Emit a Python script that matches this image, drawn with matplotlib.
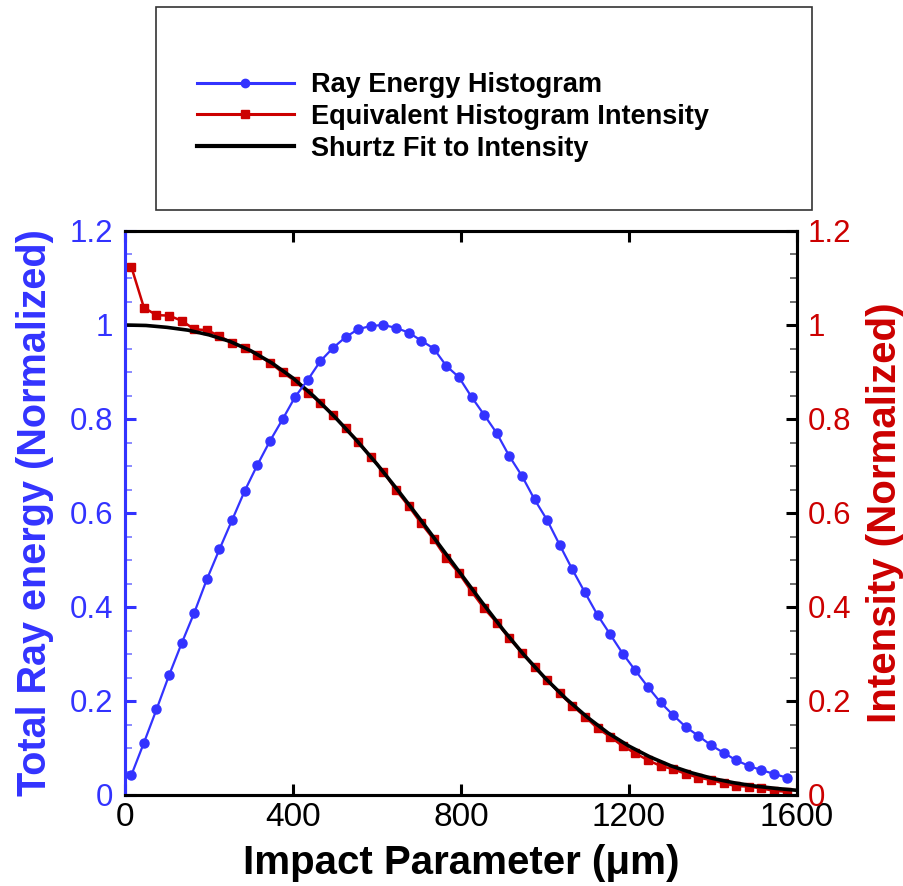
import matplotlib
matplotlib.use("Agg")
import matplotlib.pyplot as plt
from matplotlib.patches import Rectangle
from matplotlib.lines import Line2D
from matplotlib.ticker import MultipleLocator, FuncFormatter

plt.rcParams['font.family'] = ['Liberation Sans', 'DejaVu Sans']

# ---- data ----
x_hist = [15 + 30 * i for i in range(53)]
ray_energy = [0.042, 0.111, 0.182, 0.255, 0.323, 0.388, 0.459, 0.523, 0.585, 0.647,
              0.702, 0.753, 0.799, 0.847, 0.883, 0.923, 0.951, 0.974, 0.991, 0.998,
              1.000, 0.994, 0.984, 0.967, 0.950, 0.913, 0.889, 0.847, 0.809, 0.770,
              0.721, 0.679, 0.629, 0.585, 0.532, 0.480, 0.431, 0.383, 0.342, 0.301,
              0.265, 0.230, 0.197, 0.170, 0.145, 0.126, 0.106, 0.090, 0.074, 0.062,
              0.053, 0.045, 0.037]
hist_intensity = [1.124, 1.037, 1.021, 1.020, 1.009, 0.991, 0.989, 0.977, 0.961, 0.952,
                  0.936, 0.920, 0.899, 0.881, 0.856, 0.835, 0.809, 0.780, 0.752, 0.720,
                  0.688, 0.649, 0.615, 0.578, 0.544, 0.504, 0.472, 0.433, 0.397, 0.367,
                  0.333, 0.303, 0.272, 0.245, 0.216, 0.190, 0.167, 0.142, 0.124, 0.104,
                  0.089, 0.074, 0.062, 0.055, 0.045, 0.037, 0.032, 0.025, 0.019, 0.018,
                  0.014, 0.009, 0.007]
x_fit = [50 * i for i in range(33)]
fit_intensity = [1.000, 0.999, 0.995, 0.989, 0.979, 0.965, 0.945, 0.919, 0.887, 0.848,
                 0.804, 0.756, 0.704, 0.648, 0.590, 0.530, 0.470, 0.410, 0.352, 0.298,
                 0.249, 0.205, 0.166, 0.132, 0.104, 0.081, 0.062, 0.047, 0.035, 0.026,
                 0.019, 0.014, 0.010]
labels = ["Ray Energy Histogram", "Equivalent Histogram Intensity", "Shurtz Fit to Intensity"]
x_ticks = [0, 400, 800, 1200, 1600]

BLUE = '#3333ff'
RED = '#cc0000'

fig = plt.figure(figsize=(9.04, 8.86), dpi=100)
ax = fig.add_axes([125 / 904, 1 - 795 / 886, 672 / 904, 564 / 886])
ax2 = ax.twinx()

l2, = ax.plot(x_hist, hist_intensity, color=RED, lw=1.8, marker='s', ms=5.5, zorder=2)
l3, = ax.plot(x_fit, fit_intensity, color='black', lw=2.6, zorder=3)
l1, = ax.plot(x_hist, ray_energy, color=BLUE, lw=1.6, marker='o', ms=6.5, zorder=4)

for a in (ax, ax2):
    a.set_xlim(0, 1600)
    a.set_ylim(0, 1.2)
    a.yaxis.set_major_locator(MultipleLocator(0.2))
    a.yaxis.set_minor_locator(MultipleLocator(0.05))
    a.yaxis.set_major_formatter(FuncFormatter(lambda v, p: '%g' % round(v, 2)))
ax.set_xticks(x_ticks)
ax.tick_params(axis='x', which='major', direction='in', length=8, width=2.2,
               top=True, labelsize=24, pad=5, color='black')
ax.tick_params(axis='y', which='major', direction='in', length=8, width=2.2,
               labelsize=22.5, colors=BLUE, pad=8.5)
ax.tick_params(axis='y', which='minor', direction='in', length=5, width=1.2, color='#7777ff')
ax2.tick_params(axis='y', which='major', direction='in', length=8, width=2.2,
                labelsize=22.5, color='black', labelcolor=RED, pad=8)
ax2.tick_params(axis='y', which='minor', direction='in', length=5, width=1.2, color='#555555')

for a in (ax, ax2):
    for s in a.spines.values():
        s.set_linewidth(2.2)
        s.set_color('black')
ax.spines['left'].set_color(BLUE)
ax2.spines['left'].set_color(BLUE)

ax.set_xlabel('Impact Parameter (μm)', fontsize=29, fontweight='bold', labelpad=8)
ax.set_ylabel('Total Ray energy (Normalized)', fontsize=28.5, fontweight='bold',
              color=BLUE, labelpad=11)
ax2.set_ylabel('Intensity (Normalized)', fontsize=29, fontweight='bold',
               color=RED, rotation=90, labelpad=10)

# legend box
fig.patches.append(Rectangle((156 / 904, 1 - 210 / 886), 656 / 904, 203 / 886,
                             transform=fig.transFigure, fill=False,
                             edgecolor='#333333', lw=1.2))
h1 = Line2D([], [], color=BLUE, lw=2.2, marker='o', ms=6)
h2 = Line2D([], [], color=RED, lw=2.2, marker='s', ms=6)
h3 = Line2D([], [], color='black', lw=3)
fig.legend([h1, h2, h3], labels, loc='upper left',
           bbox_to_anchor=(197 / 904, 1 - 72 / 886), frameon=False,
           prop={'size': 19.5, 'weight': 'bold'}, numpoints=1,
           handlelength=3.58, handletextpad=0.63,
           labelspacing=0.22, borderpad=0, borderaxespad=0)

fig.savefig('out.png', dpi=100)
